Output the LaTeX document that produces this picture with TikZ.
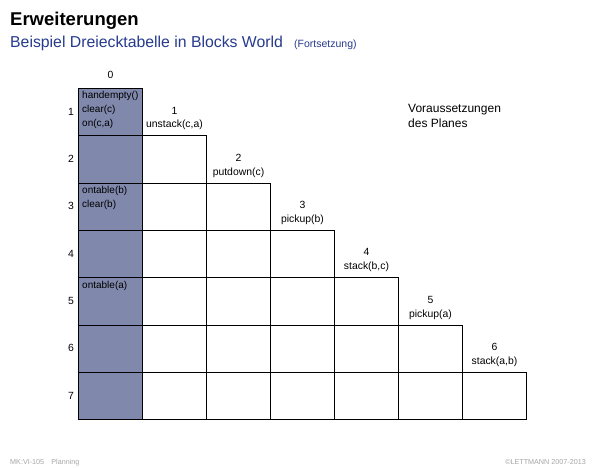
\documentclass[tikz,border=0pt]{standalone}
\usepackage{fontspec}
\setmainfont{Liberation Sans}
\usetikzlibrary{positioning}

\definecolor{prebox}{RGB}{128,136,172}
\definecolor{titleblue}{RGB}{38,58,140}
\definecolor{footgray}{RGB}{165,165,165}

\begin{document}
\begin{tikzpicture}[x=1pt, y=-1pt,
    cell/.style = {draw, line width=1pt, minimum width=64pt, minimum height=47.3pt, inner sep=0pt, anchor=north west},
    pre/.style = {cell, fill=prebox},
    lbl/.style = {font=\fontsize{10.4}{13.6}\selectfont, inner sep=0pt},
    cond/.style = {lbl, align=left, font=\fontsize{10}{13.6}\selectfont},
    foot/.style = {font=\fontsize{7.2}{8}\selectfont, text=footgray, inner sep=0pt}]

    \useasboundingbox (0,0) rectangle (600,467);

    \node[anchor=base west, inner sep=0pt, font=\bfseries\fontsize{18.5}{20}\selectfont] (title) at (10,25) {Erweiterungen};
    \node[anchor=base west, inner sep=0pt, text=titleblue, font=\fontsize{15.8}{18}\selectfont] (sub) at (10,47) {Beispiel Dreiecktabelle in Blocks World};
    \node[anchor=base west, inner sep=0pt, text=titleblue, font=\fontsize{10.5}{12}\selectfont] (cont) at (294,47) {(Fortsetzung)};

    % spalte 0
    \foreach \i in {1,...,7} {
        \node[pre] (cell\i0) at (78, {88+47.3*(\i-1)}) {};
        \node[lbl] (row\i) at (71, {88+47.3*(\i-0.5)}) {\i};
    }
    \node[lbl, above=9pt of cell10.north] (col0) {0};

    % restliche zellen
    \foreach \i in {2,...,7} {
        \pgfmathtruncatemacro\last{\i-1}
        \foreach \j in {1,...,\last} {
            \node[cell] (cell\i\j) at ({142+64*(\j-1)}, {88+47.3*(\i-1)}) {};
        }
    }

    % aktionen
    \foreach \j/\act in {1/{unstack(c,a)}, 2/{putdown(c)}, 3/{pickup(b)}, 4/{stack(b,c)}, 5/{pickup(a)}, 6/{stack(a,b)}} {
        \pgfmathtruncatemacro\k{\j+1}
        \node[lbl, above=5pt of cell\k\j.north] (act\j) {\act};
        \node[lbl, above=6pt of act\j] (num\j) {\j};
    }

    \node[cond, below right=3.5pt and 4pt of cell10.north west] (pre1) {handempty()\\clear(c)\\on(c,a)};
    \node[cond, below right=3.5pt and 4pt of cell30.north west] (pre3) {ontable(b)\\clear(b)};
    \node[cond, below right=3.5pt and 4pt of cell50.north west] (pre5) {ontable(a)};

    \node[anchor=north west, align=left, inner sep=0pt, font=\fontsize{12}{15.5}\selectfont] (plan) at (408,104) {Voraussetzungen\\des Planes};

    \node[foot, anchor=base west] (foot1) at (10,464) {MK:VI-105\quad Planning};
    \node[foot, anchor=base east] (foot2) at (586,464) {©LETTMANN 2007-2013};

\end{tikzpicture}
\end{document}
